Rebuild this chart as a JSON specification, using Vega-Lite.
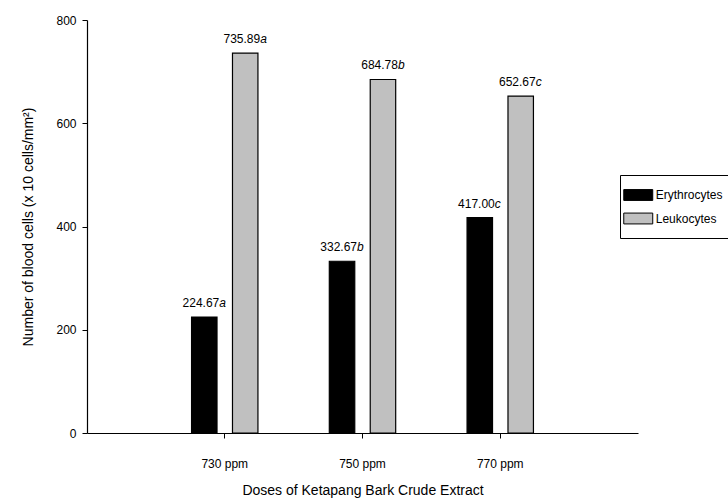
{
  "$schema": "https://vega.github.io/schema/vega-lite/v6.json",
  "width": 551,
  "height": 413,
  "autosize": {"type": "none"},
  "padding": {"left": 87, "top": 20, "right": 90, "bottom": 69},
  "config": {
    "font": "Liberation Sans",
    "view": {"stroke": null},
    "axis": {"labelFont": "Liberation Sans", "titleFont": "Liberation Sans", "labelColor": "#000", "titleColor": "#000", "domainColor": "#000", "tickColor": "#000", "titleFontWeight": "normal"},
    "legend": {"labelFont": "Liberation Sans"}
  },
  "data": {
    "values": [
      {"dose": "730 ppm", "type": "Erythrocytes", "value": 224.67, "letter": "a"},
      {"dose": "730 ppm", "type": "Leukocytes", "value": 735.89, "letter": "a"},
      {"dose": "750 ppm", "type": "Erythrocytes", "value": 332.67, "letter": "b"},
      {"dose": "750 ppm", "type": "Leukocytes", "value": 684.78, "letter": "b"},
      {"dose": "770 ppm", "type": "Erythrocytes", "value": 417.0, "letter": "c"},
      {"dose": "770 ppm", "type": "Leukocytes", "value": 652.67, "letter": "c"}
    ]
  },
  "encoding": {
    "x": {
      "field": "dose", "type": "nominal",
      "scale": {"paddingInner": 0, "paddingOuter": 0.5},
      "axis": {"title": "Doses of Ketapang Bark Crude Extract", "labelAngle": 0, "labelFontSize": 12, "titleFontSize": 14, "tickSize": 5, "labelPadding": 20, "titlePadding": 14, "bandPosition": 0.5, "domainWidth": 1.2}
    },
    "xOffset": {"field": "type", "type": "nominal", "scale": {"paddingInner": 0.378, "paddingOuter": 0.872}},
    "y": {
      "field": "value", "type": "quantitative",
      "scale": {"domain": [0, 800]},
      "axis": {"title": "Number of blood cells (x 10 cells/mm²)", "values": [0, 200, 400, 600, 800], "grid": false, "labelFontSize": 12, "titleFontSize": 14, "tickSize": 5, "labelPadding": 6, "titlePadding": 20, "domainWidth": 1.2}
    }
  },
  "layer": [
    {
      "mark": {"type": "bar", "stroke": "#000", "strokeWidth": 1.2},
      "encoding": {
        "color": {
          "field": "type", "type": "nominal",
          "scale": {"domain": ["Erythrocytes", "Leukocytes"], "range": ["#000000", "#c0c0c0"]},
          "legend": {
            "title": null, "orient": "none", "legendX": 533, "legendY": 155,
            "strokeColor": "#000", "padding": 12, "labelFontSize": 12, "labelColor": "#000",
            "symbolType": "M-2,-0.75H2V0.75H-2Z", "symbolSize": 210, "symbolStrokeColor": "#000", "symbolStrokeWidth": 1,
            "symbolOffset": -1.75, "rowPadding": 7.5, "labelOffset": 9.5, "symbolOpacity": 1
          }
        }
      }
    },
    {
      "mark": {"type": "text", "align": "right", "baseline": "bottom", "dx": 15, "dy": -7, "fontSize": 12, "color": "#000"},
      "encoding": {"text": {"field": "value", "type": "quantitative", "format": ".2f"}}
    },
    {
      "mark": {"type": "text", "align": "left", "baseline": "bottom", "dx": 15, "dy": -7, "fontSize": 12, "fontStyle": "italic", "color": "#000"},
      "encoding": {"text": {"field": "letter", "type": "nominal"}}
    }
  ]
}
